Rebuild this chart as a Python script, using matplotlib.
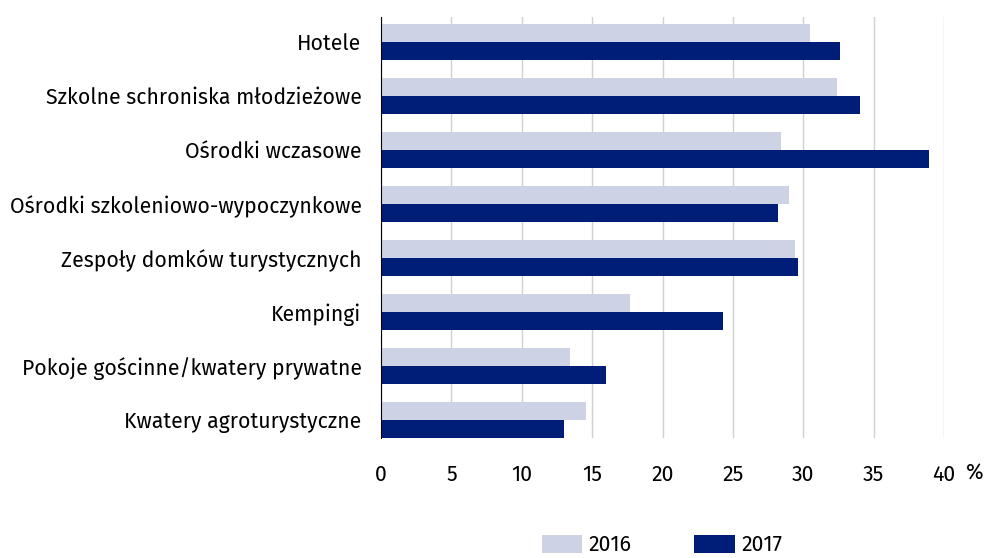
import matplotlib
matplotlib.use('Agg')
import matplotlib.pyplot as plt
import numpy as np

categories = ['Hotele', 'Szkolne schroniska młodzieżowe', 'Ośrodki wczasowe',
              'Ośrodki szkoleniowo-wypoczynkowe', 'Zespoły domków turystycznych',
              'Kempingi', 'Pokoje gościnne/kwatery prywatne', 'Kwatery agroturystyczne']
vals_2016 = [30.5, 32.4, 28.4, 29.0, 29.4, 17.7, 13.4, 14.6]
vals_2017 = [32.6, 34.0, 38.9, 28.2, 29.6, 24.3, 16.0, 13.0]
xticks = [0, 5, 10, 15, 20, 25, 30, 35, 40]

plt.rcParams['font.family'] = ['Fira Sans', 'Noto Sans', 'DejaVu Sans']

fig = plt.figure(figsize=(9.87, 5.58), dpi=100)
ax = fig.add_axes([381/987, 1 - 438/558, (944 - 381)/987, (438 - 17)/558])

y = np.arange(len(categories))
h = 0.33
b1 = ax.barh(y - h/2, vals_2016, height=h, color='#CDD3E5', label='2016', zorder=3)
b2 = ax.barh(y + h/2, vals_2017, height=h, color='#001E78', label='2017', zorder=3)

ax.set_xlim(0, 40)
ax.set_ylim(len(categories) - 1 + 0.333, -0.46)
ax.set_yticks(y)
ax.set_yticklabels(categories, fontsize=15.3)
ax.set_xticks(xticks)
ax.set_xticklabels([str(t) for t in xticks], fontsize=15.3)
ax.tick_params(axis='both', length=0)
ax.tick_params(axis='x', pad=19)
ax.tick_params(axis='y', pad=14)
ax.grid(axis='x', color='#D0D0D0', linewidth=1, zorder=0)
for s in ['top', 'right', 'bottom']:
    ax.spines[s].set_visible(False)
ax.spines['left'].set_color('black')
ax.spines['left'].set_zorder(4)

fig.text(975/987, 1 - 473/558, '%', fontsize=15.3, ha='center', va='center')

fig.legend(handles=[b1, b2], loc='center', bbox_to_anchor=(662/987, 1 - 545/558),
           ncol=2, frameon=False, fontsize=15.3, handlelength=1.9, handleheight=0.9,
           columnspacing=2.95, handletextpad=0.3)

fig.savefig('out.png', dpi=100)
